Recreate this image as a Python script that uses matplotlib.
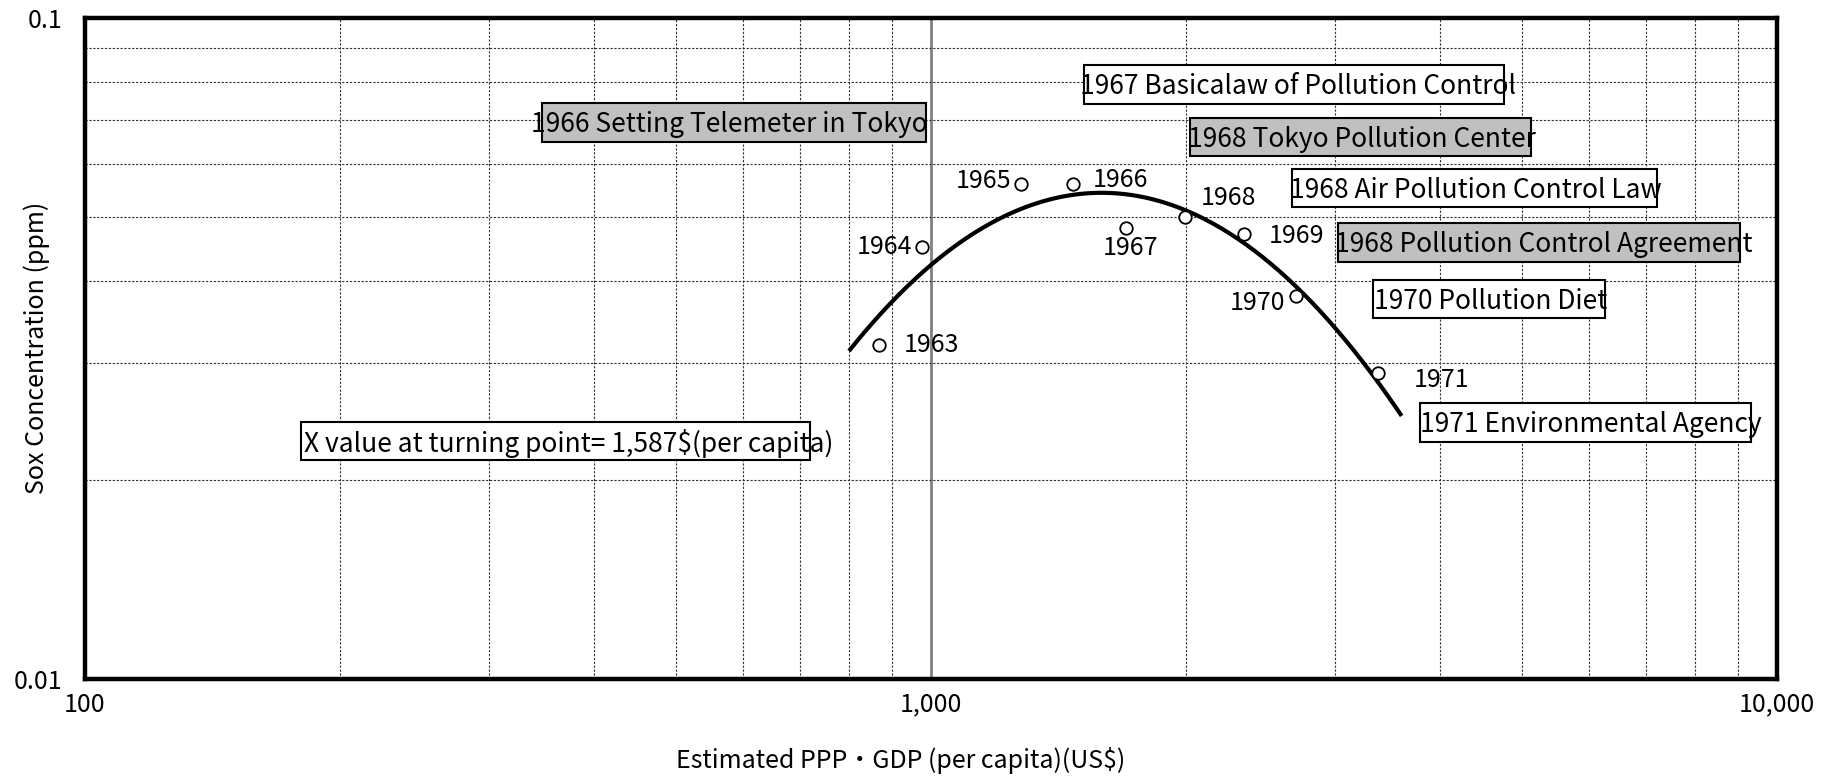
import matplotlib
matplotlib.use("Agg")
import matplotlib.pyplot as plt
from matplotlib.patches import Rectangle
from matplotlib.ticker import LogLocator, NullFormatter, FixedLocator
import numpy as np

plt.rcParams['font.family'] = ['Noto Sans CJK JP', 'DejaVu Sans']
plt.rcParams['axes.unicode_minus'] = False

# data
years = ["1963", "1964", "1965", "1966", "1967", "1968", "1969", "1970", "1971"]
gdp = [867, 977, 1277, 1471, 1702, 1994, 2344, 2698, 3377]
sox = [0.0320, 0.0450, 0.0560, 0.0560, 0.0481, 0.0499, 0.0471, 0.0379, 0.0290]
trend_range = [800, 3600]

x_ticks = [100, 1000, 10000]
x_tick_labels = ["100", "1,000", "10,000"]
y_ticks = [0.01, 0.1]
y_tick_labels = ["0.01", "0.1"]

events = [
    "1967 Basicalaw of Pollution Control",
    "1966 Setting Telemeter in Tokyo",
    "1968 Tokyo Pollution Center",
    "1968 Air Pollution Control Law",
    "1968 Pollution Control Agreement",
    "1970 Pollution Diet",
    "1971 Environmental Agency",
    "X value at turning point= 1,587$(per capita)",
]
event_gray = [False, True, True, False, True, False, False, False]

W, H = 1827, 778
fig = plt.figure(figsize=(W / 100, H / 100), dpi=100)
AX_L, AX_R, AX_T, AX_B = 85, 1777, 17.5, 679
ax = fig.add_axes([AX_L / W, 1 - AX_B / H, (AX_R - AX_L) / W, (AX_B - AX_T) / H])
ax.set_xscale("log")
ax.set_yscale("log")
ax.set_xlim(100, 10000)
ax.set_ylim(0.01, 0.1)

# grid
ax.xaxis.set_minor_locator(LogLocator(base=10, subs=np.arange(2, 10)))
ax.yaxis.set_minor_locator(LogLocator(base=10, subs=np.arange(2, 10)))
ax.xaxis.set_minor_formatter(NullFormatter())
ax.yaxis.set_minor_formatter(NullFormatter())
ax.grid(which="minor", color="#303030", lw=0.8, linestyle=(0, (2, 1.5)), zorder=0)
ax.xaxis.grid(which="major", color="#808080", lw=2, linestyle="-", zorder=0)
ax.set_axisbelow(True)

ax.xaxis.set_major_locator(FixedLocator(x_ticks))
ax.set_xticklabels(x_tick_labels)
ax.yaxis.set_major_locator(FixedLocator(y_ticks))
ax.set_yticklabels(y_tick_labels)
ax.tick_params(which="both", length=0, labelsize=18)
ax.tick_params(axis="x", pad=9)
ax.tick_params(axis="y", pad=16)

for s in ax.spines.values():
    s.set_linewidth(3.2)
    s.set_color("black")
    s.set_zorder(5)

# quadratic trend in log-log space
coef = np.polyfit(np.log10(gdp), np.log10(sox), 2)
tx = np.geomspace(trend_range[0], trend_range[1], 200)
ty = 10 ** np.polyval(coef, np.log10(tx))
ax.plot(tx, ty, color="black", lw=3, solid_capstyle="butt", zorder=3)

ax.plot(gdp, sox, "o", ms=9, mfc="white", mec="black", mew=1.3, zorder=4,
        linestyle="none")

# year labels
offsets = [(25, 0, "left"), (-10, 0, "right"), (-9, 3, "right"), (20, 4, "left"),
           (4, -20, "center"), (44, 19, "center"), (25, -2, "left"),
           (-10, -7, "right"), (36, -7, "left")]
for yr, gx, sy, (dx, dy, ha) in zip(years, gdp, sox, offsets):
    ax.annotate(yr, (gx, sy), xytext=(dx, dy), textcoords="offset pixels",
                ha=ha, va="center", fontsize=18, zorder=6)


# annotation boxes, pixel positions from the reference
def fx(px):
    return (px - AX_L) / (AX_R - AX_L)


def fy(py):
    return (AX_B - py) / (AX_B - AX_T)


boxes = [
    (1084, 65, 1504, 104, 1080),
    (542, 103, 926, 142, 531),
    (1190, 118, 1531, 156, 1188),
    (1292, 169, 1657, 207, 1290),
    (1338, 223, 1740, 262, 1335),
    (1373, 280, 1605, 318, 1374),
    (1420, 403, 1751, 442, 1420),
    (301, 422, 810, 460, 304),
]
for label, gray, (l, t, r, b, tx0) in zip(events, event_gray, boxes):
    ax.add_patch(Rectangle((fx(l), fy(b)), fx(r) - fx(l), fy(t) - fy(b),
                           transform=ax.transAxes,
                           facecolor="#c0c0c0" if gray else "white",
                           edgecolor="black", lw=1.5, zorder=6))
    ax.text(fx(tx0), fy((t + b) / 2 + 2.5), label, transform=ax.transAxes,
            ha="left", va="center", fontsize=19, zorder=7)

ax.set_ylabel("Sox Concentration (ppm)", fontsize=18)
ax.yaxis.label.set_va("center")
ax.yaxis.set_label_coords(-(AX_L - 37) / (AX_R - AX_L), 0.5)
ax.set_xlabel("Estimated PPP・GDP (per capita)(US$)", fontsize=18)
ax.xaxis.label.set_va("center")
ax.xaxis.set_label_coords(0.482, -(760 - AX_B) / (AX_B - AX_T))

fig.savefig("out.png", dpi=100)
